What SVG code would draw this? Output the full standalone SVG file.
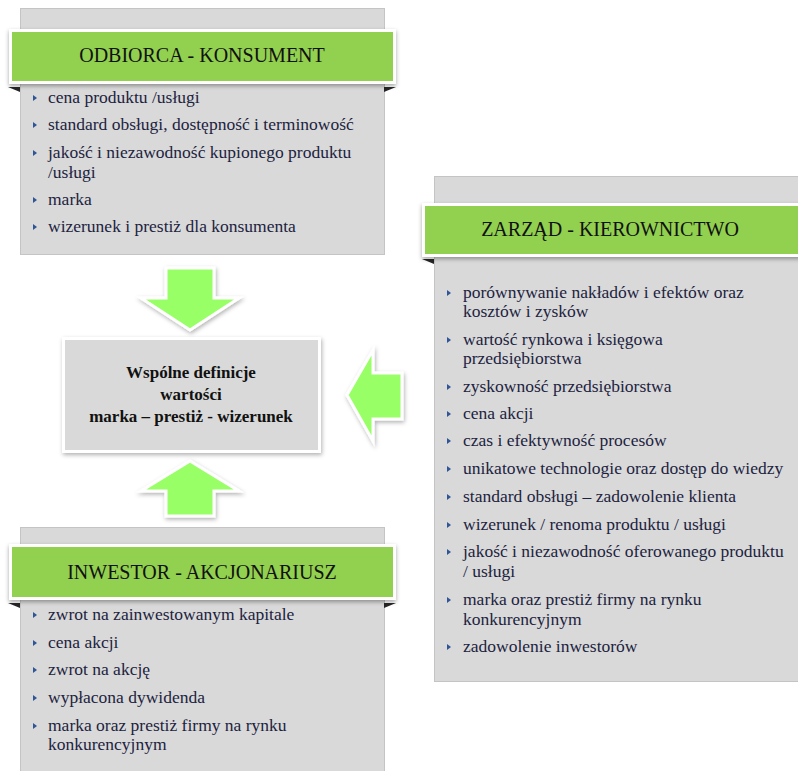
<svg xmlns="http://www.w3.org/2000/svg" width="798" height="771" viewBox="0 0 798 771">
  <defs>
    <filter id="shadow" x="-10%" y="-20%" width="120%" height="150%">
      <feDropShadow dx="0" dy="2" stdDeviation="2" flood-color="#000" flood-opacity="0.35"/>
    </filter>
    <filter id="shadowSoft" x="-20%" y="-20%" width="140%" height="140%">
      <feDropShadow dx="1" dy="2" stdDeviation="2" flood-color="#000" flood-opacity="0.3"/>
    </filter>
    <!-- small triangle bullet -->
    <path id="b" d="M0,-3 L4,0 L0,3 Z"/>
  </defs>
  <style>
    text { font-family: 'Liberation Serif', 'Times New Roman', serif; }
    .panel { fill: #d9d9d9; stroke: #c4c4c4; stroke-width: 1; }
    .header { fill: #92d050; stroke: #ffffff; stroke-width: 3; filter: url(#shadow); }
    .fold { fill: #262626; }
    .head-text { font-size: 20px; fill: #111111; text-anchor: middle; }
    .item text { font-size: 17.5px; fill: #1c2340; }
    .bullet { fill: #2f5597; }
    .center-box { fill: #d9d9d9; stroke: #ffffff; stroke-width: 3; filter: url(#shadowSoft); }
    .center-text { font-size: 17px; font-weight: bold; fill: #111111; text-anchor: middle; }
    .arrow { fill: #99ff66; stroke: #ffffff; stroke-width: 3; stroke-linejoin: miter; filter: url(#shadowSoft); }
  </style>
  <rect width="798" height="771" fill="#ffffff"/>

  <!-- Odbiorca - konsument -->
  <g id="odbiorca">
    <rect class="panel" x="20.5" y="8.5" width="364" height="246"/>
    <polygon class="fold" points="8,87 20,87 20,92"/>
    <polygon class="fold" points="384,87 396,87 384,92"/>
    <rect class="header" x="10.5" y="30.5" width="384" height="52"/>
    <text class="head-text" x="202" y="62">ODBIORCA - KONSUMENT</text>
    <g class="item">
      <use href="#b" class="bullet" x="33" y="98"/>
      <text x="48" y="103">cena produktu /usługi</text>
      <use href="#b" class="bullet" x="33" y="125"/>
      <text x="48" y="130">standard obsługi, dostępność i terminowość</text>
      <use href="#b" class="bullet" x="33" y="153"/>
      <text x="48" y="158">jakość i niezawodność kupionego produktu</text>
      <text x="48" y="178">/usługi</text>
      <use href="#b" class="bullet" x="33" y="200"/>
      <text x="48" y="205">marka</text>
      <use href="#b" class="bullet" x="33" y="227"/>
      <text x="48" y="232">wizerunek i prestiż dla konsumenta</text>
    </g>
  </g>

  <!-- Zarząd - kierownictwo -->
  <g id="zarzad">
    <rect class="panel" x="434.5" y="176.5" width="370" height="505"/>
    <polygon class="fold" points="422,259 434,259 434,264"/>
    <rect class="header" x="423.5" y="204.5" width="380" height="51"/>
    <text class="head-text" x="610" y="236">ZARZĄD - KIEROWNICTWO</text>
    <g class="item">
      <use href="#b" class="bullet" x="447" y="293"/>
      <text x="463" y="298">porównywanie nakładów i efektów oraz</text>
      <text x="463" y="317">kosztów i zysków</text>
      <use href="#b" class="bullet" x="447" y="340"/>
      <text x="463" y="345">wartość rynkowa i księgowa</text>
      <text x="463" y="364">przedsiębiorstwa</text>
      <use href="#b" class="bullet" x="447" y="387"/>
      <text x="463" y="392">zyskowność przedsiębiorstwa</text>
      <use href="#b" class="bullet" x="447" y="414"/>
      <text x="463" y="419">cena akcji</text>
      <use href="#b" class="bullet" x="447" y="441"/>
      <text x="463" y="446">czas i efektywność procesów</text>
      <use href="#b" class="bullet" x="447" y="469"/>
      <text x="463" y="474">unikatowe technologie oraz dostęp do wiedzy</text>
      <use href="#b" class="bullet" x="447" y="497"/>
      <text x="463" y="502">standard obsługi – zadowolenie klienta</text>
      <use href="#b" class="bullet" x="447" y="525"/>
      <text x="463" y="530">wizerunek / renoma produktu / usługi</text>
      <use href="#b" class="bullet" x="447" y="552"/>
      <text x="463" y="557">jakość i niezawodność oferowanego produktu</text>
      <text x="463" y="577">/ usługi</text>
      <use href="#b" class="bullet" x="447" y="600"/>
      <text x="463" y="605">marka oraz prestiż firmy na rynku</text>
      <text x="463" y="625">konkurencyjnym</text>
      <use href="#b" class="bullet" x="447" y="647"/>
      <text x="463" y="652">zadowolenie inwestorów</text>
    </g>
  </g>

  <!-- Inwestor - akcjonariusz -->
  <g id="inwestor">
    <rect class="panel" x="20.5" y="527.5" width="364" height="250"/>
    <polygon class="fold" points="8,603 20,603 20,608"/>
    <polygon class="fold" points="384,603 396,603 384,608"/>
    <rect class="header" x="10.5" y="545.5" width="384" height="53"/>
    <text class="head-text" x="202" y="579">INWESTOR - AKCJONARIUSZ</text>
    <g class="item">
      <use href="#b" class="bullet" x="33" y="615"/>
      <text x="48" y="620">zwrot na zainwestowanym kapitale</text>
      <use href="#b" class="bullet" x="33" y="643"/>
      <text x="48" y="648">cena akcji</text>
      <use href="#b" class="bullet" x="33" y="670"/>
      <text x="48" y="675">zwrot na akcję</text>
      <use href="#b" class="bullet" x="33" y="698"/>
      <text x="48" y="703">wypłacona dywidenda</text>
      <use href="#b" class="bullet" x="33" y="726"/>
      <text x="48" y="731">marka oraz prestiż firmy na rynku</text>
      <text x="48" y="750">konkurencyjnym</text>
    </g>
  </g>

  <!-- Shared definition -->
  <g id="wspolne">
    <rect class="center-box" x="63.5" y="338.5" width="256" height="113"/>
    <text class="center-text" x="191" y="378">Wspólne definicje</text>
    <text class="center-text" x="191" y="400">wartości</text>
    <text class="center-text" x="191" y="422">marka – prestiż - wizerunek</text>
  </g>

  <!-- Block arrows -->
  <g id="connectors">
    <polygon class="arrow" points="166,268 214,268 214,298 239,298 190,330 141,298 166,298"/>
    <polygon class="arrow" points="190,461 239,491 214,491 214,516 166,516 166,491 141,491"/>
    <polygon class="arrow" points="347,395 373,350 373,373 402,373 402,419 373,419 373,441"/>
  </g>
</svg>
